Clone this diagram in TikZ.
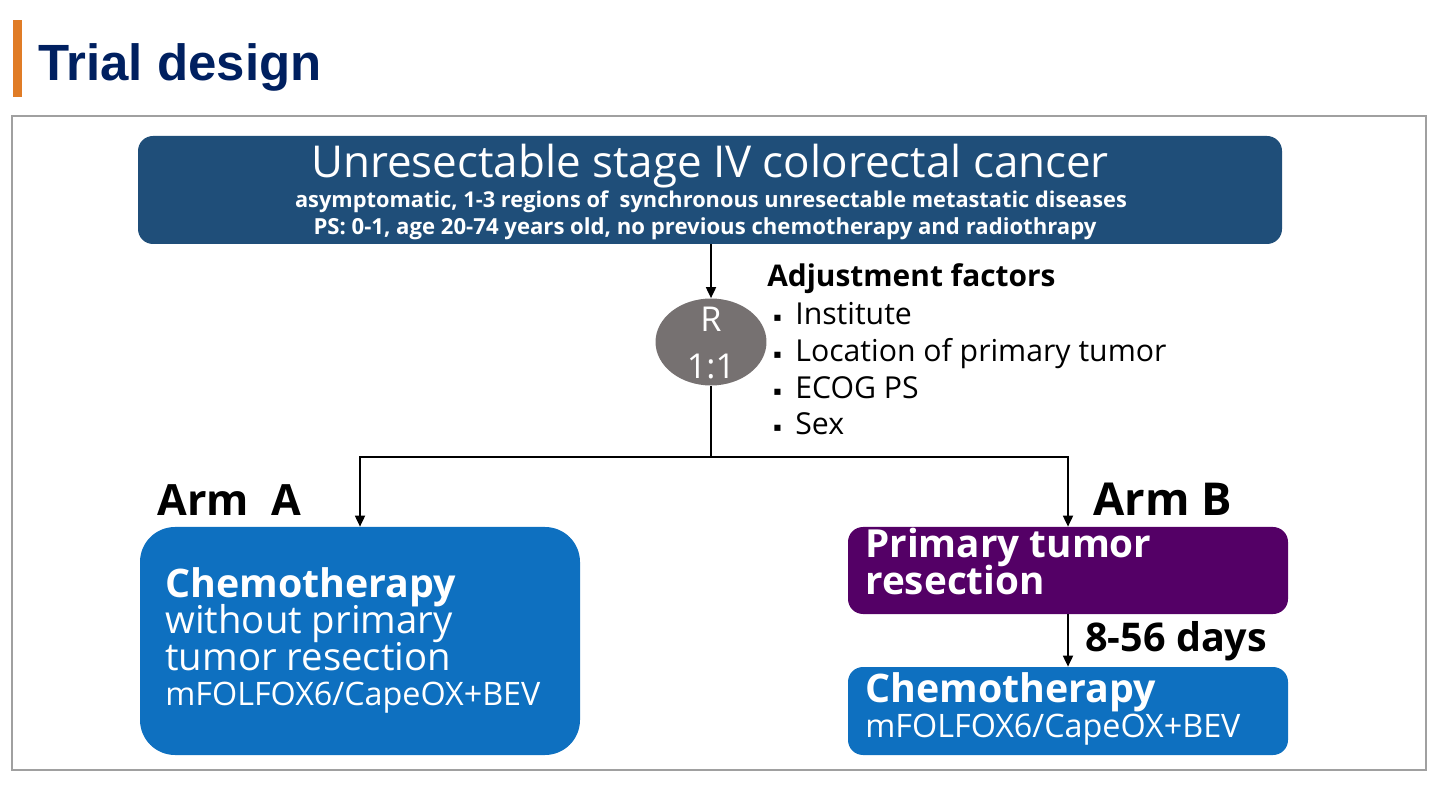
\documentclass[tikz,border=0pt]{standalone}
\usepackage{fontspec}
\setmainfont{Open Sans}
\newfontfamily\titlefont{Liberation Sans}
\newfontfamily\symfont{DejaVu Sans}
\usetikzlibrary{arrows.meta,shapes.geometric,fit}
\definecolor{titleblue}{RGB}{0,32,96}
\definecolor{barorange}{RGB}{224,124,38}
\definecolor{topblue}{RGB}{31,78,121}
\definecolor{randgray}{RGB}{118,113,113}
\definecolor{armblue}{RGB}{14,112,192}
\definecolor{armpurple}{RGB}{84,0,102}
\definecolor{framegray}{RGB}{160,160,160}
\newcommand\fsz[1]{\fontsize{#1}{#1}\selectfont}
\newcommand\bul{\makebox[12.5pt][l]{\raisebox{2.2pt}{\symfont\fontsize{7}{7}\selectfont ▪}}}
\tikzset{
  box/.style={inner sep=0pt, draw=none},
  lbl/.style={inner sep=0pt, anchor=base west},
  clbl/.style={inner sep=0pt, anchor=base},
  wtxt/.style={text=white},
  conn/.style={line width=1pt, draw=black},
  arr/.style={conn, -{Triangle[length=0.22cm,width=0.2cm]}},
}
\begin{document}
\begin{tikzpicture}[x=0.02cm,y=-0.02cm]
\useasboundingbox (0,0) rectangle (1440,810);
% title
\fill[barorange] (13,20) rectangle (22,97);
\node[lbl, text=titleblue, font=\titlefont\bfseries\fsz{29}] (title) at (38,81) {Trial design};
% frame
\draw[framegray, line width=1.2pt] (12,116) rectangle (1426,770);
% top box
\node[box, fill=topblue, rounded corners=0.3cm, fit={(138,136)(1282,244)}] (top) {};
\node[clbl, wtxt, font=\fsz{25}] (t1) at (710,178) {Unresectable stage IV colorectal cancer};
\node[clbl, wtxt, font=\bfseries\fsz{12.4}] (t2) at (711,208) {asymptomatic, 1-3 regions of\ \ synchronous unresectable metastatic diseases};
\node[clbl, wtxt, font=\bfseries\fsz{12.6}] (t3) at (705,235) {PS: 0-1, age 20-74 years old, no previous chemotherapy and radiothrapy};
% randomisation
\node[ellipse, fill=randgray, inner sep=0pt, minimum width=2.22cm, minimum height=1.74cm] (R) at (711,342) {};
\node[clbl, wtxt, font=\fsz{19.5}] (r1) at (711,332) {R};
\node[clbl, wtxt, font=\fsz{19.5}] (r2) at (711,379) {1:1};
\draw[arr] (top.south -| R.north) -- (R.north);
% adjustment factors
\node[lbl, font=\bfseries\fsz{17}] (adj) at (767,287) {Adjustment factors};
\node[lbl, font=\fsz{17.2}] (f1) at (773,325) {\bul Institute};
\node[lbl, font=\fsz{17.2}] (f2) at (773,362) {\bul Location of primary tumor};
\node[lbl, font=\fsz{17.2}] (f3) at (773,399) {\bul ECOG PS};
\node[lbl, font=\fsz{17.2}] (f4) at (773,435) {\bul Sex};
% arms
\node[box, fill=armblue, rounded corners=0.7cm, fit={(140,527)(580,755)}] (A) {};
\node[box, fill=armpurple, rounded corners=0.3cm, fit={(848,527)(1288,614)}] (B1) {};
\node[box, fill=armblue, rounded corners=0.3cm, fit={(848,667)(1288,755)}] (B2) {};
\coordinate (split) at (711,457);
\draw[conn] (R.south) -- (split);
\draw[arr] (split) -| (A.north);
\draw[arr] (split) -| (B1.north);
\draw[arr] (B1.south) -- (B2.north);
\node[lbl, font=\bfseries\fsz{24.5}] (armA) at (157,516) {Arm\ \ A};
\node[lbl, font=\bfseries\fsz{25.8}] (armB) at (1093,516) {Arm B};
\node[lbl, font=\bfseries\fsz{22.5}] (days) at (1085,651) {8-56 days};
% arm A text
\node[lbl, wtxt, font=\bfseries\fsz{22.4}] (a1) at (165,597) {Chemotherapy};
\node[lbl, wtxt, font=\fsz{21.8}] (a2) at (165,633) {without primary};
\node[lbl, wtxt, font=\fsz{21.8}] (a3) at (165,670) {tumor resection};
\node[lbl, wtxt, font=\fsz{18.4}] (a4) at (165,705) {mFOLFOX6/CapeOX+BEV};
% arm B text
\node[lbl, wtxt, font=\bfseries\fsz{22}] (b1) at (865,558) {Primary tumor};
\node[lbl, wtxt, font=\bfseries\fsz{22}] (b2) at (865,594) {resection};
\node[lbl, wtxt, font=\bfseries\fsz{22.4}] (b3) at (865,702) {Chemotherapy};
\node[lbl, wtxt, font=\fsz{18.4}] (b4) at (865,737) {mFOLFOX6/CapeOX+BEV};
\end{tikzpicture}
\end{document}
